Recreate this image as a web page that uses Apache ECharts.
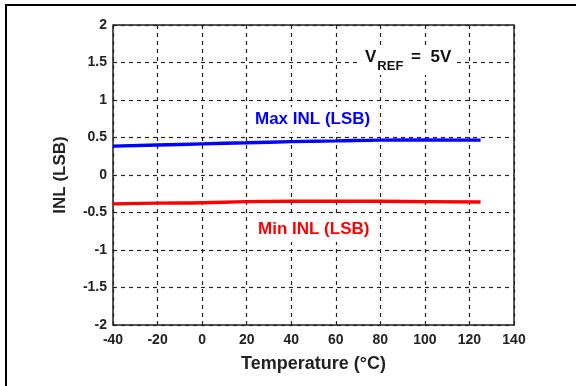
<!DOCTYPE html>
<html>
<head>
<meta charset="utf-8">
<script src="https://cdn.jsdelivr.net/npm/echarts@6/dist/echarts.min.js"></script>
<style>
  html, body { margin: 0; padding: 0; background: #fff; }
  #chart { width: 576px; height: 386px; }
</style>
</head>
<body>
<div id="chart"></div>
<script>
// temperature points (°C) and INL readings (LSB)
const temps = [-40, -20, 0, 20, 40, 60, 80, 100, 125];
const maxInl = [0.385, 0.40, 0.415, 0.43, 0.445, 0.455, 0.465, 0.468, 0.465];
const minInl = [-0.385, -0.375, -0.37, -0.355, -0.35, -0.35, -0.35, -0.355, -0.36];

const font = "'Liberation Sans', Arial, sans-serif";
const chart = echarts.init(document.getElementById("chart"));

const pairs = (ys) => temps.map((t, i) => [t, ys[i]]);

const splitStyle = { color: "#222", type: [4, 4], width: 1.2 };

chart.setOption({
  animation: false,
  grid: {
    left: 113, right: 62, top: 25, bottom: 61,
    show: true, borderColor: "#222", borderWidth: 1.5, backgroundColor: "transparent"
  },
  xAxis: {
    type: "value",
    min: -40,
    max: 140,
    interval: 20,
    name: "Temperature (°C)",
    nameLocation: "middle",
    nameGap: 30,
    nameTextStyle: { fontFamily: font, fontWeight: "bold", fontSize: 18, color: "#222" },
    axisLine: { show: false, onZero: false },
    axisTick: { show: false },
    axisLabel: { fontFamily: font, fontWeight: "bold", fontSize: 14, color: "#222", margin: 8 },
    splitLine: { show: true, lineStyle: splitStyle }
  },
  yAxis: {
    type: "value",
    min: -2,
    max: 2,
    interval: 0.5,
    name: "INL (LSB)",
    nameLocation: "middle",
    nameGap: 44,
    nameRotate: 90,
    nameTextStyle: { fontFamily: font, fontWeight: "bold", fontSize: 17, color: "#222" },
    axisLine: { show: false, onZero: false },
    axisTick: { show: false },
    axisLabel: { fontFamily: font, fontWeight: "bold", fontSize: 14, color: "#222", margin: 6 },
    splitLine: { show: true, lineStyle: splitStyle }
  },
  series: [
    {
      name: "Max INL (LSB)",
      type: "line",
      data: pairs(maxInl),
      smooth: true,
      showSymbol: false,
      lineStyle: { color: "#0000ff", width: 3.5 }
    },
    {
      name: "Min INL (LSB)",
      type: "line",
      data: pairs(minInl),
      smooth: true,
      showSymbol: false,
      lineStyle: { color: "#ff0000", width: 3.5 }
    }
  ],
  graphic: [
    {
      type: "rect",
      shape: { x: 6, y: 5, width: 700, height: 500 },
      style: { fill: null, stroke: "#000", lineWidth: 2 },
      silent: true
    },
    {
      type: "text",
      left: 250,
      top: 107,
      z: 10,
      style: {
        text: "Max INL (LSB)", fill: "#0000ff", font: "bold 17px " + font,
        backgroundColor: "#fff", padding: [4, 5, 4, 5]
      }
    },
    {
      type: "text",
      left: 253,
      top: 217,
      z: 10,
      style: {
        text: "Min INL (LSB)", fill: "#ff0000", font: "bold 17px " + font,
        backgroundColor: "#fff", padding: [4, 5, 4, 5]
      }
    },
    {
      type: "text",
      left: 361,
      top: 45,
      z: 10,
      style: {
        text: "{v|V}{s|REF}{v| =  5V}",
        fill: "#111",
        backgroundColor: "#fff",
        padding: [4, 4, 2, 4],
        rich: {
          v: { font: "bold 17px " + font, fill: "#111", verticalAlign: "top", lineHeight: 19 },
          s: { font: "bold 13px " + font, fill: "#111", padding: [11, 3, 0, 1], lineHeight: 24 }
        }
      }
    }
  ]
});
</script>
</body>
</html>
